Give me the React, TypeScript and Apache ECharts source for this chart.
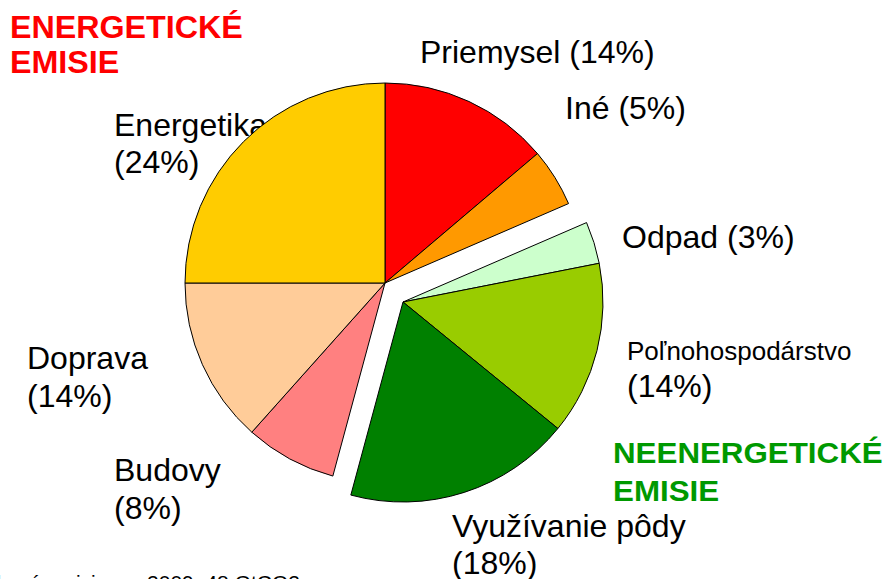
import React, { useEffect, useRef } from "react";
import * as echarts from "echarts";

// ---- data ----
const energyCategories = ["Priemysel", "Iné", "Budovy", "Doprava", "Energetika"];
const energyLabelPercents = [14, 5, 8, 14, 24];
// slice shares as drawn in the picture (the labels are rounded)
const energyShares = [13.8, 4.7, 7.4, 13.4, 25.0];
const energyBeforeGapCount = 2; // Priemysel, Iné come before the non-energy wedge
const nonEnergyCategories = ["Odpad", "Poľnohospodárstvo", "Využívanie pôdy"];
const nonEnergyLabelPercents = [3, 14, 18];
const nonEnergyShares = [3.4, 14.0, 18.3];
const groupTitles = ["ENERGETICKÉ", "NEENERGETICKÉ"];
const groupTitleSecondLine = "EMISIE";
const footnote = "Celkové emisie v r. 2009: 48 GtCO2e";

// ---- styles ----
const sliceColors: Record<string, string> = {
  Priemysel: "#FF0000",
  "Iné": "#FF9900",
  Odpad: "#CCFFCC",
  "Poľnohospodárstvo": "#99CC00",
  "Využívanie pôdy": "#008000",
  Budovy: "#FF8080",
  Doprava: "#FFCC99",
  Energetika: "#FFCC00",
};

// label layout: [x, yLine1, yLine2 | null, fontSize1]
const labelLayout: Record<string, [number, number, number | null, number]> = {
  Priemysel: [420, 52, null, 32],
  "Iné": [565, 108, null, 32],
  Odpad: [622, 237, null, 32],
  "Poľnohospodárstvo": [627, 351, 386, 26],
  "Využívanie pôdy": [452, 526, 563, 32],
  Budovy: [114, 470, 508, 32],
  Doprava: [27, 358, 396, 32],
  Energetika: [114, 125, 162, 32],
};

const FONT = "'Liberation Sans', Arial, Helvetica, sans-serif";

function textEl(x: number, y: number, text: string, fontSize: number, fill: string, bold = false, scaleX = 1) {
  return {
    type: "text",
    x,
    y,
    scaleX,
    silent: true,
    style: {
      x: 0,
      y: 0,
      text,
      fill,
      fontSize,
      fontFamily: FONT,
      fontWeight: bold ? "bold" : "normal",
      align: "left",
      verticalAlign: "middle",
      textAlign: "left",
      textVerticalAlign: "middle",
    },
  };
}

export default function App() {
  const ref = useRef<HTMLDivElement>(null);
  useEffect(() => {
    document.body.style.margin = "0";
    if (!ref.current) return;
    const chart = echarts.init(ref.current, undefined, { renderer: "svg" });

    const sum = (a: number[]) => a.reduce((s, v) => s + v, 0);
    const gap = (value: number) => ({
      value,
      name: "",
      itemStyle: { color: "rgba(0,0,0,0)", borderWidth: 0 },
      label: { show: false },
      labelLine: { show: false },
    });
    const slice = (name: string, value: number) => ({
      value,
      name,
      itemStyle: { color: sliceColors[name] },
    });

    const energyData = [
      ...energyCategories.slice(0, energyBeforeGapCount).map((n, i) => slice(n, energyShares[i])),
      gap(sum(nonEnergyShares)),
      ...energyCategories
        .slice(energyBeforeGapCount)
        .map((n, i) => slice(n, energyShares[i + energyBeforeGapCount])),
    ];
    const nonEnergyData = [
      gap(sum(energyShares.slice(0, energyBeforeGapCount))),
      ...nonEnergyCategories.map((n, i) => slice(n, nonEnergyShares[i])),
      gap(sum(energyShares.slice(energyBeforeGapCount))),
    ];

    const baseSeries = {
      type: "pie",
      radius: 200,
      startAngle: 90,
      clockwise: true,
      silent: true,
      avoidLabelOverlap: false,
      label: { show: false },
      labelLine: { show: false },
      emphasis: { disabled: true },
      itemStyle: { borderColor: "#000", borderWidth: 1 },
    };

    const labels: any[] = [];
    const allCats = [...energyCategories, ...nonEnergyCategories];
    const allPcts = [...energyLabelPercents, ...nonEnergyLabelPercents];
    allCats.forEach((name, i) => {
      const [x, y1, y2, fs] = labelLayout[name];
      const pct = `(${allPcts[i]}%)`;
      if (y2 === null) {
        labels.push(textEl(x, y1, `${name} ${pct}`, fs, "#000"));
      } else {
        labels.push(textEl(x, y1, name, fs, "#000"));
        labels.push(textEl(x, y2, pct, 32, "#000"));
      }
    });

    labels.push(textEl(10, 27, groupTitles[0], 31, "#FF0000", true, 1.04));
    labels.push(textEl(10, 62, groupTitleSecondLine, 31, "#FF0000", true, 1.04));
    labels.push(textEl(613, 453, groupTitles[1], 29, "#009900", true, 1.08));
    labels.push(textEl(613, 491, groupTitleSecondLine, 29, "#009900", true, 1.08));
    labels.push(textEl(-35, 582, footnote, 21, "#000"));

    chart.setOption({
      animation: false,
      backgroundColor: "#ffffff",
      series: [
        { ...baseSeries, center: [385, 283], data: energyData },
        { ...baseSeries, center: [403, 302], data: nonEnergyData },
      ],
      graphic: { elements: labels },
    });
    return () => chart.dispose();
  }, []);
  return <div ref={ref} style={{ width: 890, height: 579 }} />;
}
